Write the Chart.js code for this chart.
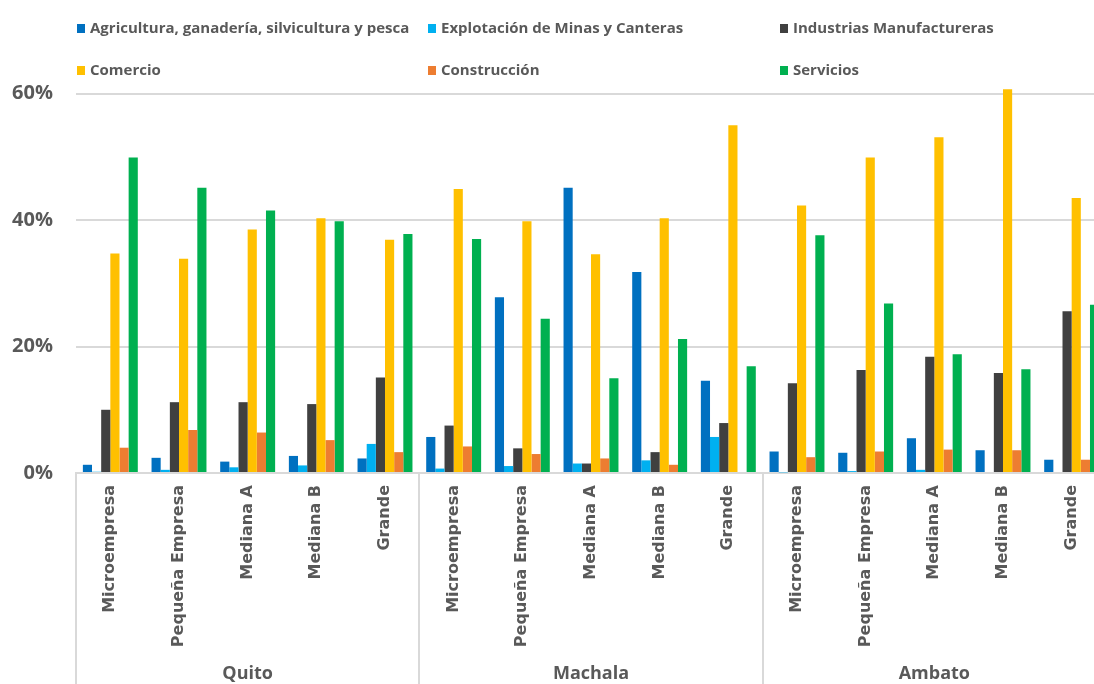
<!DOCTYPE html>
<html>
<head>
<meta charset="utf-8">
<script src="https://cdn.jsdelivr.net/npm/chart.js@4.4.1/dist/chart.umd.min.js"></script>
<style>
    html, body { margin: 0; padding: 0; background: #fff; overflow: hidden; }
    #wrap { position: relative; width: 1094px; height: 684px; overflow: hidden; }
    #chart_box { position: absolute; left: 0; top: 0; width: 1112px; height: 684px; }
    .legend_item {
        position: absolute;
        font: bold 15px "Open Sans", sans-serif;
        color: #595959;
        white-space: nowrap;
        line-height: 16px;
    }
    .legend_item i {
        display: inline-block;
        width: 8px;
        height: 9px;
        margin-right: 5px;
    }
</style>
</head>
<body>
<div id="wrap">
    <div id="chart_box"><canvas id="sector_chart"></canvas></div>
    <div id="legend"></div>
</div>
<script>
const city_labels = ['Quito', 'Machala', 'Ambato'];
const size_labels = ['Microempresa', 'Pequeña Empresa', 'Mediana A', 'Mediana B', 'Grande'];

// share of firms per sector (%), 5 sizes for each city in order
const agricultura  = [1.3, 2.4, 1.8, 2.7, 2.3,   5.7, 27.8, 45.1, 31.8, 14.6,  3.4, 3.2, 5.5, 3.6, 2.1];
const minas        = [0.2, 0.5, 0.9, 1.2, 4.6,   0.7, 1.1, 1.5, 2.0, 5.7,      0.1, 0.3, 0.5, 0, 0];
const manufactura  = [10.0, 11.2, 11.2, 10.9, 15.1,  7.5, 3.9, 1.5, 3.3, 7.9,  14.2, 16.3, 18.4, 15.8, 25.6];
const comercio     = [34.7, 33.9, 38.5, 40.3, 36.9,  44.9, 39.8, 34.6, 40.3, 55.0,  42.3, 49.9, 53.1, 60.7, 43.5];
const construccion = [4.0, 6.8, 6.4, 5.2, 3.3,   4.2, 3.0, 2.3, 1.3, 0,    2.5, 3.4, 3.7, 3.6, 2.1];
const servicios    = [49.9, 45.1, 41.5, 39.8, 37.8,  37.0, 24.4, 15.0, 21.2, 16.9,  37.6, 26.8, 18.8, 16.4, 26.6];

const y_ticks = [0, 20, 40, 60];

const text_grey = '#595959';
const line_grey = '#d9d9d9';

const category_labels = [];
city_labels.forEach(() => size_labels.forEach(s => category_labels.push(s)));

const series = [
    { label: 'Agricultura, ganadería, silvicultura y pesca', data: agricultura, color: '#0070C0' },
    { label: 'Explotación de Minas y Canteras', data: minas, color: '#00B0F0' },
    { label: 'Industrias Manufactureras', data: manufactura, color: '#404040' },
    { label: 'Comercio', data: comercio, color: '#FFC000' },
    { label: 'Construcción', data: construccion, color: '#ED7D31' },
    { label: 'Servicios', data: servicios, color: '#00B050' },
];

// legend sits in two rows of three columns above the plot
const legend_pos = [[77, 19], [428, 19], [780, 19], [77, 61], [428, 61], [780, 61]];
const legend_el = document.getElementById('legend');
series.forEach((s, i) => {
    const item = document.createElement('div');
    item.className = 'legend_item';
    item.style.left = legend_pos[i][0] + 'px';
    item.style.top = legend_pos[i][1] + 'px';
    item.innerHTML = '<i style="background:' + s.color + '"></i>' + s.label;
    legend_el.appendChild(item);
});

// city names and separators under the rotated size labels
const city_groups = {
    id: 'city_groups',
    afterDraw(chart) {
        const ctx = chart.ctx;
        const xs = chart.scales.x;
        const per = size_labels.length;
        const w = (xs.right - xs.left) / category_labels.length;
        ctx.save();
        ctx.strokeStyle = line_grey;
        ctx.lineWidth = 2;
        for (let g = 0; g <= city_labels.length; g++) {
            const x = Math.round(xs.left + g * per * w);
            ctx.beginPath();
            ctx.moveTo(x, xs.top);
            ctx.lineTo(x, chart.height);
            ctx.stroke();
        }
        ctx.fillStyle = text_grey;
        ctx.font = 'bold 18px "Open Sans", sans-serif';
        ctx.textAlign = 'center';
        ctx.textBaseline = 'middle';
        city_labels.forEach((c, g) => {
            const cx = xs.left + (g + 0.5) * per * w;
            ctx.fillText(c, cx, chart.height - 10);
        });
        ctx.restore();
    }
};

new Chart(document.getElementById('sector_chart'), {
    type: 'bar',
    data: {
        labels: category_labels,
        datasets: series.map(s => ({
            label: s.label,
            data: s.data,
            backgroundColor: s.color,
            borderWidth: 0,
            categoryPercentage: 0.8,
            barPercentage: 1.0,
        })),
    },
    options: {
        responsive: true,
        maintainAspectRatio: false,
        animation: false,
        layout: { padding: { top: 81, right: 6, bottom: 0, left: 0 } },
        plugins: {
            legend: { display: false },
            tooltip: { enabled: false },
        },
        scales: {
            x: {
                afterFit: s => { s.height = 211; },
                grid: { display: false, drawTicks: false },
                border: { display: true, color: line_grey, width: 2 },
                ticks: {
                    autoSkip: false,
                    maxRotation: 90,
                    minRotation: 90,
                    padding: 12,
                    color: text_grey,
                    font: { family: 'DejaVu Sans', weight: 'bold', size: 16 },
                },
            },
            y: {
                min: 0,
                max: 62,
                afterFit: s => { s.width = 76; },
                afterBuildTicks: s => { s.ticks = y_ticks.map(v => ({ value: v })); },
                grid: { color: line_grey, lineWidth: 2, drawTicks: false },
                border: { display: false },
                ticks: {
                    padding: 23,
                    color: text_grey,
                    font: { family: 'Open Sans', weight: 'bold', size: 20 },
                    callback: v => v + '%',
                },
            },
        },
    },
    plugins: [city_groups],
});
</script>
</body>
</html>
